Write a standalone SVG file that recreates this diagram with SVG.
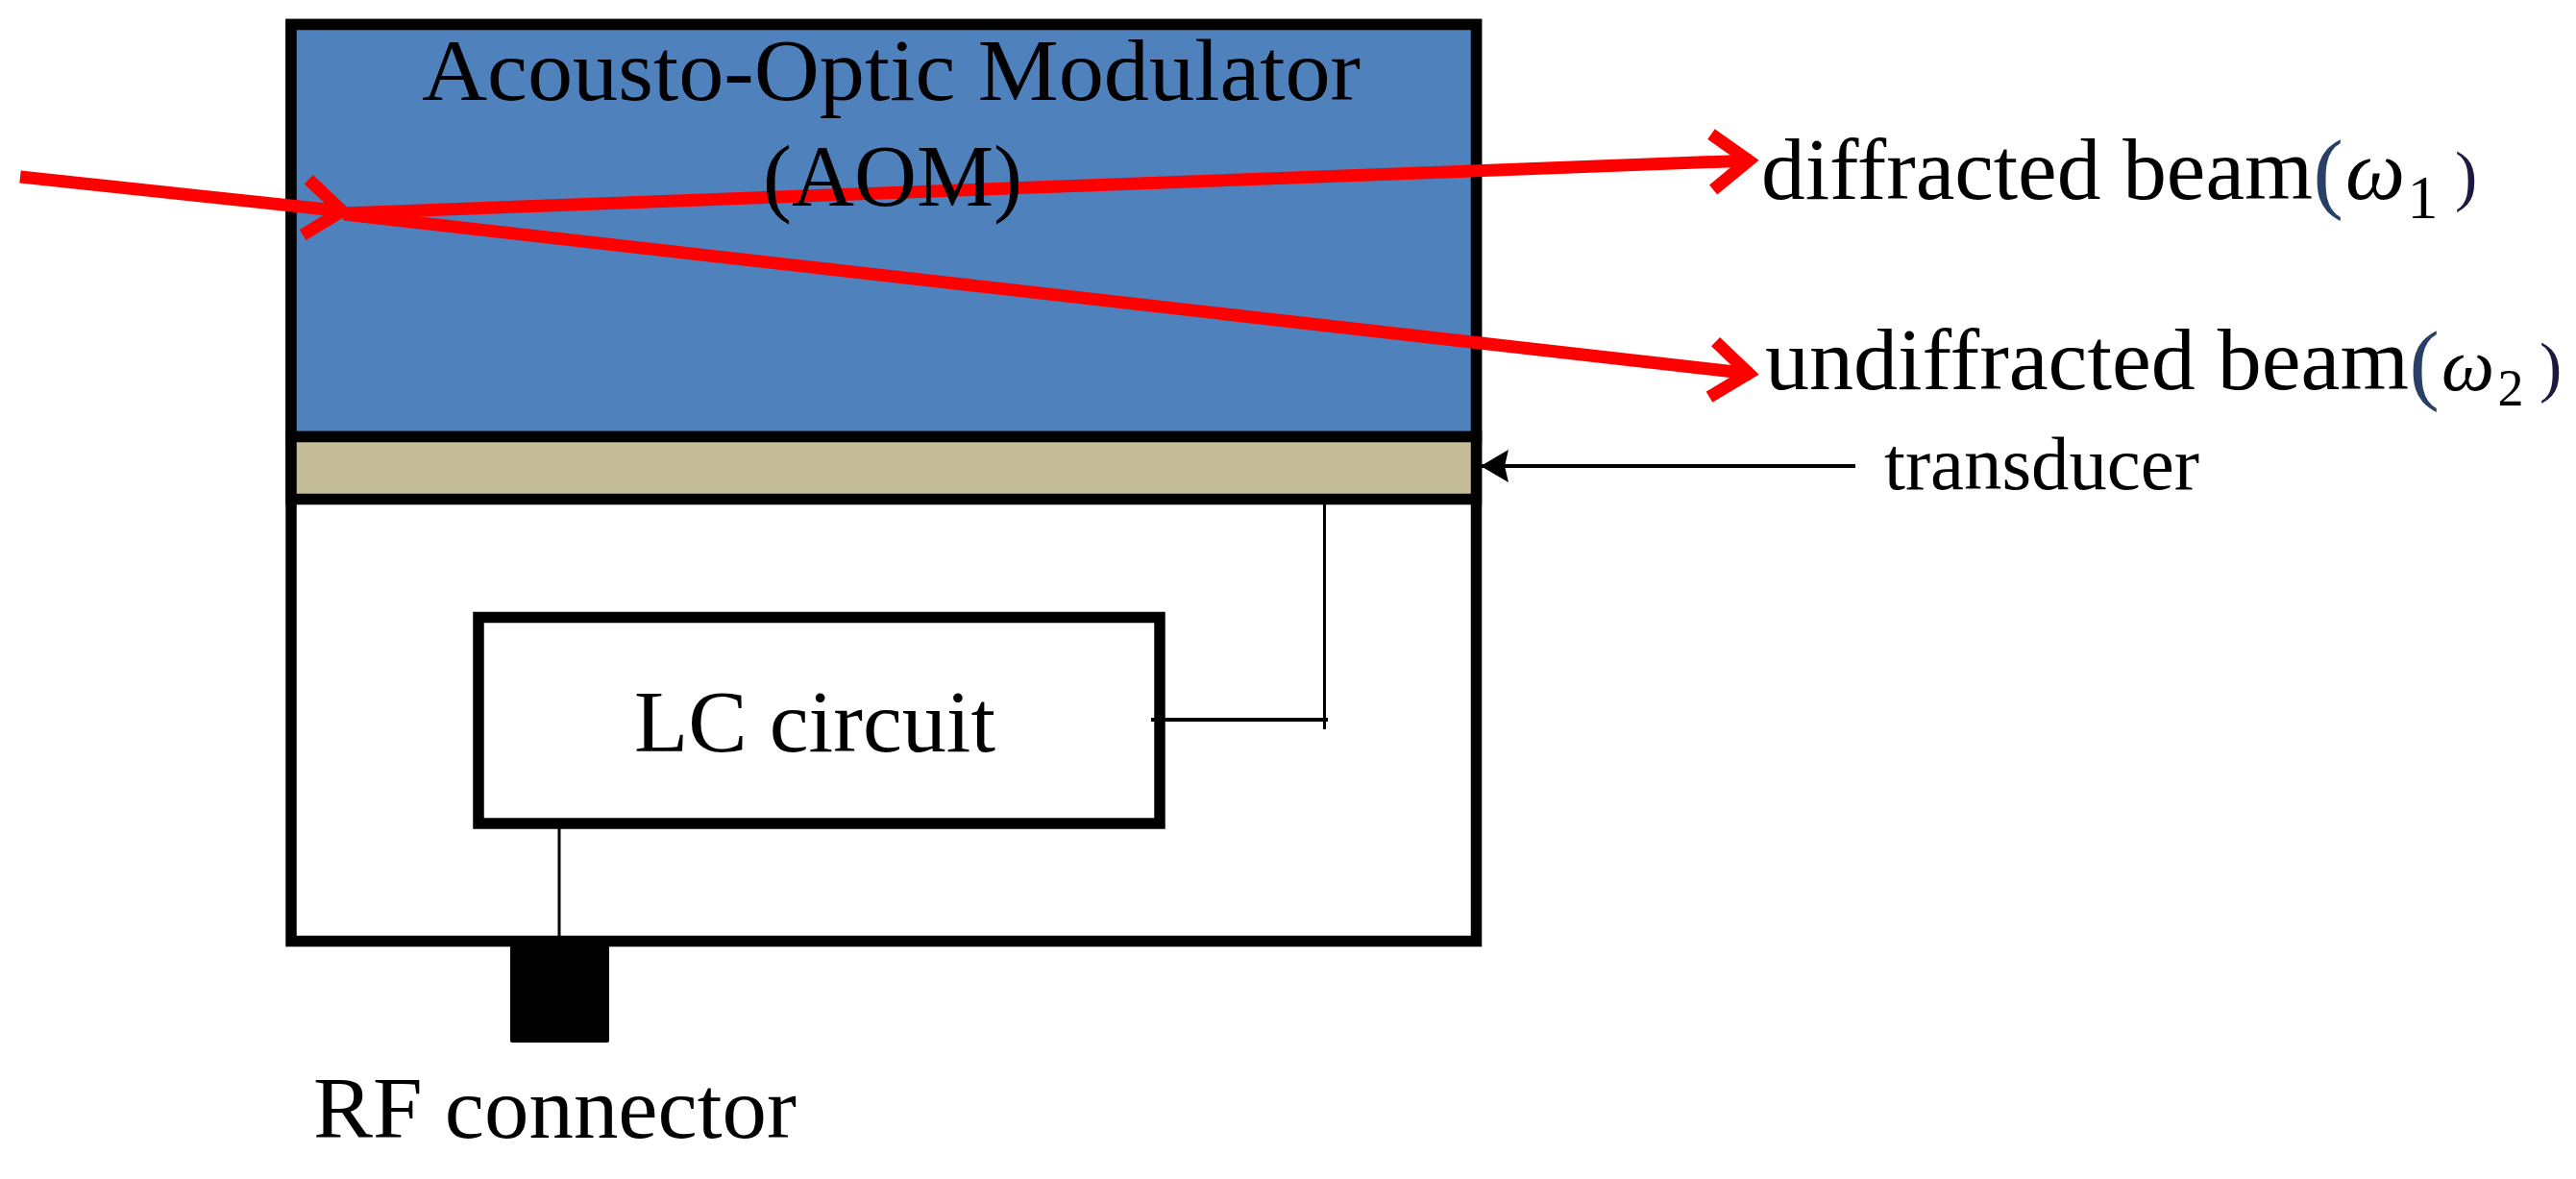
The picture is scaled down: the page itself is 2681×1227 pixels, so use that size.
<svg xmlns="http://www.w3.org/2000/svg" width="2681" height="1227" viewBox="0 0 2681 1227">
<defs>
<style>
.t{font-family:"Liberation Serif","Times New Roman",serif;fill:#000}
.lab{font-size:92px}
.lp{font-size:94px;fill:#2a3f66}
.rp{font-size:70px;fill:#1a1a40}
.om{font-style:italic}
.box{stroke:#000;stroke-width:11.5}
.beam{fill:none;stroke:#f00;stroke-width:13;marker-end:url(#chev)}
.wire{fill:none;stroke:#000;stroke-width:3}
</style>
<marker id="chev" markerUnits="userSpaceOnUse" markerWidth="80" markerHeight="80" refX="61" refY="40" orient="auto" overflow="visible">
<path d="M20,11 L58,40 L20,69" fill="none" stroke="#f00" stroke-width="13" stroke-linejoin="miter"/>
</marker>
<marker id="tip" markerUnits="userSpaceOnUse" markerWidth="40" markerHeight="40" refX="29" refY="20" orient="auto" overflow="visible">
<path d="M0,3 L29,20 L0,37 L4,20 Z" fill="#000"/>
</marker>
</defs>
<rect width="2681" height="1227" fill="#fff"/>
<g id="housing"><rect class="box" x="303" y="25.500" width="1233.500" height="954" fill="#fff"/></g>
<g id="aom"><rect class="box" x="303" y="25.500" width="1233.500" height="429" fill="#4f81bd"/></g>
<g id="transducer"><rect class="box" x="303" y="454.500" width="1233.500" height="65" fill="#c4bd97"/></g>
<g id="lc-circuit"><rect class="box" x="498" y="642.500" width="709" height="214.500" fill="#fff"/>
<text class="t lab" x="660" y="782" textLength="376" lengthAdjust="spacingAndGlyphs">LC circuit</text></g>
<g id="rf-connector"><rect x="531" y="984" width="103" height="101" rx="2" fill="#000"/>
<text class="t lab" x="326" y="1184" textLength="503" lengthAdjust="spacingAndGlyphs">RF connector</text></g>
<g id="connectors">
<path class="wire" d="M1378.500,525 V759"/>
<path class="wire" style="stroke-width:4" d="M1198,749 H1382"/>
<path class="wire" d="M582,862 V974"/>
<line x1="1931" y1="485" x2="1541" y2="485" stroke="#000" stroke-width="4" marker-end="url(#tip)"/>
<line class="beam" x1="21" y1="184" x2="359" y2="220"/>
<line class="beam" x1="358" y1="222" x2="1823" y2="167"/>
<line class="beam" x1="358" y1="223" x2="1823" y2="389"/>
</g>
<g id="aom-label">
<text class="t lab" x="439" y="104" textLength="977" lengthAdjust="spacingAndGlyphs">Acousto-Optic Modulator</text>
<text class="t lab" x="794" y="214" textLength="270" lengthAdjust="spacingAndGlyphs">(AOM)</text>
</g>
<g id="diffracted-label">
<text class="t lab" x="1833" y="207" textLength="574" lengthAdjust="spacingAndGlyphs">diffracted beam</text>
<text class="t"><tspan class="lp" x="2407.500" y="209.500">(</tspan><tspan class="om" style="font-size:88px" x="2441" y="207">ω</tspan><tspan style="font-size:64px" x="2505.500" y="227">1</tspan><tspan class="rp" x="2555" y="205.600">)</tspan></text>
</g>
<g id="undiffracted-label">
<text class="t lab" x="1837" y="405" textLength="670" lengthAdjust="spacingAndGlyphs">undiffracted beam</text>
<text class="t"><tspan class="lp" x="2507.500" y="408.500">(</tspan><tspan class="om" style="font-size:78px" x="2541" y="406">ω</tspan><tspan style="font-size:54px" x="2599.500" y="422">2</tspan><tspan class="rp" x="2643" y="404.600">)</tspan></text>
</g>
<g id="transducer-label">
<text class="t" style="font-size:79px" x="1961" y="509" textLength="328" lengthAdjust="spacingAndGlyphs">transducer</text>
</g>
</svg>
